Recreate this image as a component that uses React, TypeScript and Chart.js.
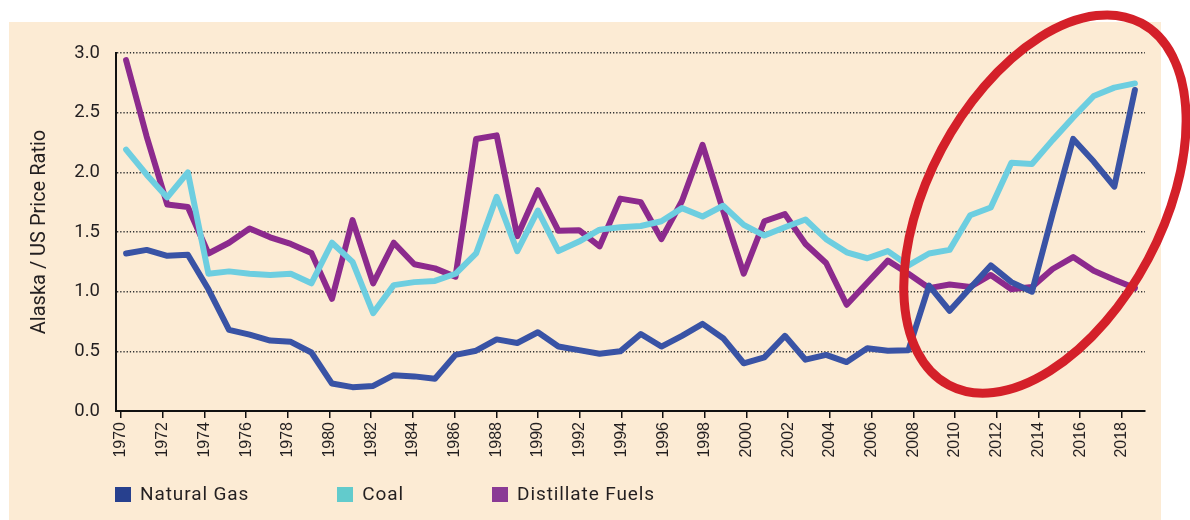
import React, { useEffect, useRef } from "react";
import { Chart, registerables } from "chart.js";

Chart.register(...registerables);

// ---- Data ----
const YEARS = [
  1970, 1971, 1972, 1973, 1974, 1975, 1976, 1977, 1978, 1979,
  1980, 1981, 1982, 1983, 1984, 1985, 1986, 1987, 1988, 1989,
  1990, 1991, 1992, 1993, 1994, 1995, 1996, 1997, 1998, 1999,
  2000, 2001, 2002, 2003, 2004, 2005, 2006, 2007, 2008, 2009,
  2010, 2011, 2012, 2013, 2014, 2015, 2016, 2017, 2018, 2019,
];

const NATURAL_GAS = [
  1.32, 1.35, 1.3, 1.31, 1.02, 0.68, 0.64, 0.59, 0.58, 0.49,
  0.23, 0.2, 0.21, 0.3, 0.29, 0.27, 0.47, 0.505, 0.6, 0.57,
  0.66, 0.54, 0.51, 0.48, 0.5, 0.645, 0.54, 0.63, 0.73, 0.61,
  0.4, 0.45, 0.63, 0.43, 0.47, 0.41, 0.525, 0.505, 0.51, 1.05,
  0.84, 1.03, 1.22, 1.08, 1.0, 1.65, 2.28, 2.09, 1.88, 2.69,
];

const COAL = [
  2.19, 1.98, 1.79, 2.0, 1.15, 1.17, 1.15, 1.14, 1.15, 1.07,
  1.41, 1.25, 0.82, 1.055, 1.08, 1.09, 1.15, 1.32, 1.795, 1.34,
  1.68, 1.34, 1.42, 1.52, 1.54, 1.55, 1.59, 1.7, 1.63, 1.72,
  1.56, 1.47, 1.54, 1.605, 1.44, 1.33, 1.28, 1.34, 1.22, 1.32,
  1.35, 1.64, 1.705, 2.08, 2.07, 2.27, 2.46, 2.64, 2.71, 2.745,
];

const DISTILLATE_FUELS = [
  2.94, 2.3, 1.73, 1.71, 1.32, 1.41, 1.53, 1.455, 1.4, 1.325,
  0.94, 1.6, 1.07, 1.41, 1.23, 1.195, 1.125, 2.28, 2.31, 1.465,
  1.85, 1.51, 1.515, 1.38, 1.78, 1.75, 1.44, 1.76, 2.23, 1.68,
  1.15, 1.59, 1.65, 1.4, 1.24, 0.89, 1.075, 1.26, 1.15, 1.03,
  1.06, 1.04, 1.14, 1.02, 1.04, 1.19, 1.29, 1.175, 1.1, 1.03,
];

const SERIES_NAMES = ["Natural Gas", "Coal", "Distillate Fuels"];
const SERIES_COLORS = ["#3953A5", "#6DCEE0", "#8C2A8D"];
const LEGEND_COLORS = ["#27408E", "#62CBCC", "#8A3A95"];

const X_TICK_YEARS = [
  1970, 1972, 1974, 1976, 1978, 1980, 1982, 1984, 1986, 1988,
  1990, 1992, 1994, 1996, 1998, 2000, 2002, 2004, 2006, 2008,
  2010, 2012, 2014, 2016, 2018,
];

const Y_TITLE = "Alaska / US Price Ratio";

// highlight ellipse annotation (centre in data units)
const ELLIPSE_CENTER_YEAR = 2014.63;
const ELLIPSE_CENTER_VALUE = 1.734;

const FONT = "Roboto, 'Open Sans', 'Noto Sans', sans-serif";
const TICK_FONT = "'Liberation Sans', Arial, sans-serif";
const TEXT_COLOR = "#231F20";
const BG = "#FCEBD4";

const backgroundPlugin = {
  id: "panelBackground",
  beforeDraw(chart: any) {
    const ctx = chart.ctx;
    ctx.save();
    ctx.fillStyle = BG;
    ctx.fillRect(9, 22, 1152, 498);
    ctx.restore();
  },
};

const ellipsePlugin = {
  id: "highlightEllipse",
  afterDraw(chart: any) {
    const ctx = chart.ctx;
    const xs = chart.scales.xd;
    const ys = chart.scales.y;
    const cx = xs.getPixelForValue(ELLIPSE_CENTER_YEAR);
    const cy = ys.getPixelForValue(ELLIPSE_CENTER_VALUE);
    ctx.save();
    ctx.beginPath();
    ctx.ellipse(cx, cy, 205, 117, (-62 * Math.PI) / 180, 0, Math.PI * 2);
    ctx.strokeStyle = "#D42029";
    ctx.lineWidth = 9;
    ctx.stroke();
    ctx.restore();
  },
};

export default function App() {
  const canvasRef = useRef<HTMLCanvasElement | null>(null);

  useEffect(() => {
    if (!canvasRef.current) return;
    const seriesValues = [NATURAL_GAS, COAL, DISTILLATE_FUELS];
    const chart = new Chart(canvasRef.current, {
      type: "line",
      data: {
        datasets: seriesValues.map((vals, i) => ({
          label: SERIES_NAMES[i],
          data: YEARS.map((yr, j) => ({ x: yr, y: vals[j] })),
          borderColor: SERIES_COLORS[i],
          backgroundColor: SERIES_COLORS[i],
          borderWidth: 6,
          pointRadius: 0,
          pointHoverRadius: 0,
          tension: 0,
          borderJoinStyle: "round",
          borderCapStyle: "round",
          xAxisID: "xd",
          yAxisID: "y",
        })),
      },
      options: {
        responsive: false,
        animation: false,
        events: [],
        layout: { padding: { left: 21, right: 45, top: 53, bottom: 54 } },
        plugins: {
          legend: { display: false },
          tooltip: { enabled: false },
        },
        scales: {
          x: {
            type: "linear",
            position: "bottom",
            min: 1969.76,
            max: 2019.11,
            afterBuildTicks: (axis: any) => {
              axis.ticks = X_TICK_YEARS.map((v) => ({ value: v }));
            },
            afterFit: (s: any) => {
              s.height = 55;
            },
            ticks: {
              autoSkip: false,
              minRotation: 90,
              maxRotation: 90,
              padding: 4,
              color: TEXT_COLOR,
              font: { family: TICK_FONT, size: 16 },
              callback: (v: any) => String(v),
            },
            grid: {
              display: true,
              drawOnChartArea: false,
              drawTicks: true,
              tickLength: 7,
              color: "#111",
              lineWidth: 1.5,
            },
            border: { display: true, color: "#111", width: 2 },
          },
          xd: {
            type: "linear",
            display: false,
            min: 1969.51,
            max: 2019.49,
          },
          y: {
            type: "linear",
            position: "left",
            min: 0,
            max: 3,
            afterFit: (s: any) => {
              s.width = 95;
            },
            ticks: {
              stepSize: 0.5,
              padding: 16,
              color: TEXT_COLOR,
              font: { family: FONT, size: 18.5 },
              callback: (v: any) => Number(v).toFixed(1),
            },
            grid: {
              drawTicks: false,
              color: "#333",
              lineWidth: 1.4,
            },
            border: { display: true, color: "#111", width: 2, dash: [1.3, 1.9] },
            title: {
              display: true,
              text: Y_TITLE,
              color: TEXT_COLOR,
              font: { family: FONT, size: 20 },
              padding: { top: 7, bottom: 0 },
            },
          },
        },
      },
      plugins: [backgroundPlugin, ellipsePlugin],
    });
    return () => chart.destroy();
  }, []);

  return (
    <div style={{ position: "absolute", left: 0, top: 0, width: 1190, height: 520, background: "#fff" }}>
      <canvas ref={canvasRef} width={1190} height={520} style={{ position: "absolute", left: 0, top: 0 }} />
      <div
        style={{
          position: "absolute",
          left: 115,
          top: 483,
          display: "flex",
          alignItems: "center",
          gap: 88,
          fontFamily: FONT,
          fontSize: 19,
          letterSpacing: "0.9px",
          color: TEXT_COLOR,
          lineHeight: "22px",
        }}
      >
        {SERIES_NAMES.map((name, i) => (
          <div key={name} style={{ display: "flex", alignItems: "center" }}>
            <span style={{ display: "inline-block", width: 16, height: 15, background: LEGEND_COLORS[i], marginRight: 9 }} />
            <span>{name}</span>
          </div>
        ))}
      </div>
    </div>
  );
}
